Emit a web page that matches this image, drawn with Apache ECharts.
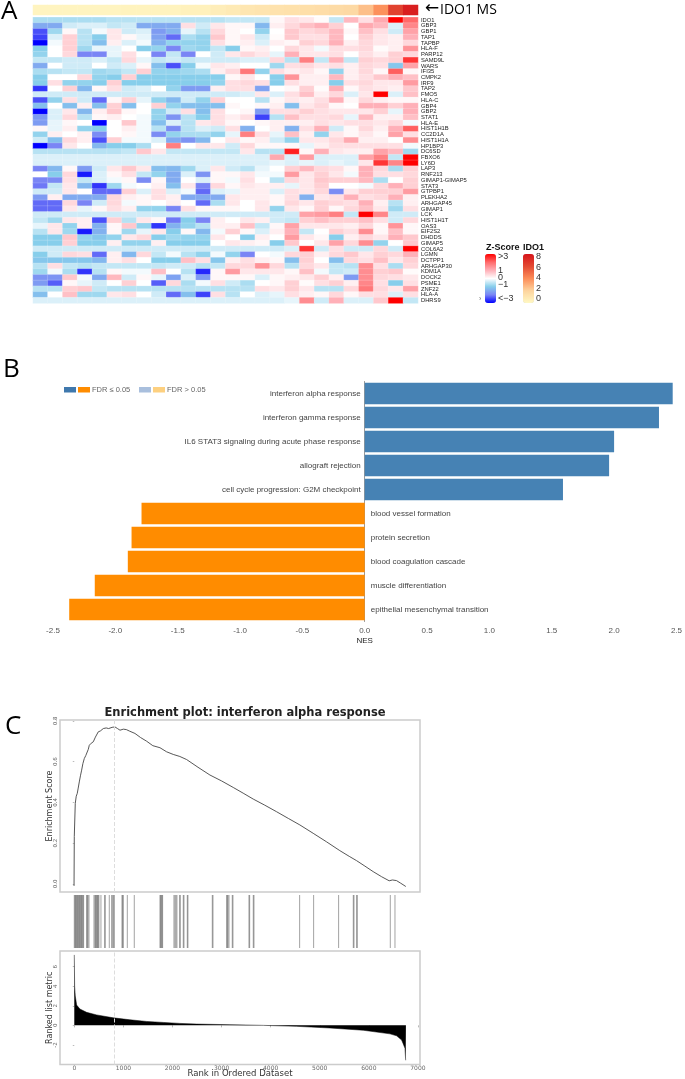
<!DOCTYPE html>
<html>
<head>
<meta charset="utf-8">
<style>
  html, body { margin: 0; padding: 0; background: #fff; }
  #main { width: 685px; height: 1079px; filter: blur(0.7px); }
</style>
<script src="https://cdn.jsdelivr.net/npm/echarts@6/dist/echarts.min.js"></script>
</head>
<body>
<div id="main"></div>
<script>
// panel A
const genes = ['IDO1','GBP3','GBP1','TAP1','TAPBP','HLA-F','PARP12','SAMD9L','WARS','IFI35','CMPK2','IRF9','TAP2','FMO5','HLA-C','GBP4','GBP2','STAT1','HLA-E','HIST1H1B','CC2D1A','HIST1H1A','HP1BP3','DC6SD','FBXO6','LY6D','LAP3','RNF213','GIMAP1-GIMAP5','STAT3','GTPBP1','PLEKHA2','ARHGAP45','GIMAP1','LCK','HIST1H1T','OAS3','EIF2S2','DHDDS','GIMAP5','COL6A2','LGMN','DCTPP1','ARHGAP30','KDM1A','DOCK2','PSME1','ZNF22','HLA-A','DHRS9'];
const ido1Levels = [.2,.2,.2,.2,.2,.2,.3,.3,.3,.3,.4,.4,.6,.8,1,1.1,1.2,1.3,1.4,1.5,1.6,1.7,2.6,3.9,6.3,7.6];
const zRows = [
[-.7,-.7,-.7,-.7,-.7,-.6,-.6,-.6,-.6,-.6,-.6,-.6,-.6,-.5,-.5,-.5,.1,.4,.3,.05,-.5,.9,.4,1.1,3,2],
[-1.5,-1.5,-.4,-.3,-.3,-.5,-.4,-1.5,-1.5,-1.5,.4,-.4,.3,.1,.1,-1.3,.2,.5,.8,1,.6,0,1.1,.9,-.3,1.6],
[-2.4,-.8,.1,-.6,-.1,.3,-.4,-.3,-1.7,-1.4,-.2,-.6,.5,.1,0,-.9,0,.7,.5,.6,.9,.1,.8,.4,-.4,1.2],
[-2.5,-.3,.6,-.6,-1,.3,.1,-.2,-1.6,-2.2,-.7,-.9,.7,.1,.3,-.4,.05,.7,.4,.4,.9,0,.6,.3,.2,1],
[-3,-.1,.6,-.6,-1.2,.2,-.3,-.1,-1.4,-.9,-.9,-.9,.4,.1,.2,-.3,.2,.1,.6,.5,1,.2,.5,.3,.2,.5],
[-1,0,.6,-.8,-.2,-.2,0,-1,-.9,-2,-.8,-.9,-.5,-1,.1,.2,0,.5,.3,-.1,.4,.4,.5,.05,.2,1.4],
[-.9,0,.5,-2,-2,-.2,.4,0,-2,-.5,-2,0,-.4,.3,.5,.3,-.2,1,.3,.3,.4,0,.4,.2,.6,.5],
[-.5,-.5,-.4,-.4,-.3,-.5,.5,-.2,-.5,-.4,-.5,-.4,-.4,-.4,-.3,-.3,.5,-.6,1.7,-.5,1,-.5,.6,.5,.6,2.5],
[-1.5,0,-.4,-.4,0,-.4,-.3,.1,-1.2,-2.4,-1,-.1,.3,.2,0,0,-.8,.4,.5,.3,.4,.2,.5,.4,-1.1,1.2],
[-.7,-.6,-.5,-.5,-.8,-.7,-.5,.6,-.9,-.9,-.8,-.7,.2,.5,1.8,-.9,.4,.2,.3,.1,-.9,.2,.5,.1,2.1,.1],
[-1,0,0,.5,-.9,-1,.6,-1,-1,-1,-1,-1,-1,.1,.3,0,-1,1.4,.2,.2,.9,.2,.4,.7,1,.8],
[-1,.4,-.9,-.9,-1,.6,-1,-1,-1,-1,-1,-1,-.9,.4,.5,.4,-1,.4,.2,.2,-1,.4,.5,.3,.3,1.3],
[-2.6,0,.6,-1.3,.1,.4,-.4,-.3,0,-.9,-1.7,-1.7,.2,.4,.4,-1.6,0,.1,.6,.05,1,.1,.4,.3,.2,.7],
[-.4,-.4,-.4,-.4,-.4,-.4,-.4,-.4,-.4,-.4,-.4,-.4,-.4,-.4,-.3,.3,-.3,.4,.8,.2,.5,-.3,.3,3,-.3,.8],
[-2.4,-.9,.4,-.4,-2.2,.1,.6,-.2,-.9,-1.3,-.4,-.9,.6,0,0,-.6,.1,.3,.2,.4,1,.1,.5,.2,.1,.1],
[-1.2,0,-1.2,.2,-1.2,.6,-1.2,0,.6,-.9,-1.2,-1.2,-1.2,.1,0,.1,.2,-1.2,.3,.5,.1,0,1,1,.6,1],
[-3,-.3,.3,-1.3,.2,.7,.1,0,-.9,-.4,.4,-1.2,.4,0,.1,-1.7,.4,.4,.6,.4,.3,.3,.3,.6,-.2,1],
[-1.7,-.3,.5,-.6,.1,.2,0,-.1,-.9,-1.8,-.6,-1,.4,.2,.4,-2.5,-.6,.8,.4,.4,.5,-.2,.9,.2,.2,.8],
[-1.7,-.2,.1,0,-3,0,.7,-.1,-1.2,-.3,-.6,.3,.4,.1,0,.1,.2,.2,.2,.4,.3,.4,.4,.3,.5,-.1],
[.1,-.2,.2,-.9,-1,0,.2,-.1,-.6,-1.9,-.6,-.3,-.4,.4,-1.4,0,.2,-1.4,.4,1,-.4,.1,.5,.2,1,2.1],
[-.9,.2,0,.2,-1.9,0,.1,-.1,-1.9,-.9,-.7,-.7,-.9,-.2,1.7,.4,-.2,.8,.2,-.9,.3,.1,.3,.1,1.2,.4],
[-.4,-1.2,.5,.2,-2.4,.6,-.1,-.1,-.3,-1.5,-1.8,-1.3,0,.3,.1,.2,-.4,-.9,.3,.3,.5,1.1,.2,.2,0,1.5],
[-3,-2,.3,0,-1.3,-1,-1,-.7,0,1.7,0,.3,.3,-.4,.5,.1,.1,.1,-.2,.2,.4,.4,.4,.4,.4,-.1],
[-.6,-.6,-.6,-.6,-.6,-.6,-.5,.7,.3,-.5,-.5,-.5,-.5,-.5,.3,-.6,-.6,2.7,.1,1,.3,.2,.2,1.2,.9,-.8],
[-.3,-.3,-.3,-.3,-.3,-.3,-.3,-.3,-.3,-.3,-.3,-.3,-.3,-.3,-.3,-.3,1.1,-.3,1.3,-.3,-.3,-.3,1.2,1.7,-.5,3],
[-.3,-.3,-.3,-.3,-.3,-.3,-.3,-.3,-.3,-.3,-.3,-.3,-.3,-.3,-.3,-.3,-.2,-.3,-.2,-.3,-.2,-.3,.3,2.5,1.6,3],
[-2,-1.3,.1,-1.7,-.4,.3,.7,.3,-1.2,-1.3,-.8,-.3,.3,-.4,-.6,-.2,0,.6,.9,.5,.4,.1,1,.5,-.7,.6],
[0,-1,.5,-2.8,-.3,.1,.4,-.5,-.9,-1.5,-.3,-1.8,.1,.1,.3,-.1,-.1,1.3,.3,.6,.3,-.1,1,.4,.4,.5],
[-2,-1.9,.4,-.5,-.3,-.1,.1,-1.9,.1,-1.5,0,-.3,.1,-.1,.4,0,-.6,.5,.3,.7,.6,.6,.9,-.7,0,.6],
[-2.1,-.5,.3,-1.3,-2.6,-.8,-.1,0,.2,-1.2,.3,-2,.5,.1,.3,.2,.2,-.2,.3,.6,0,0,-.1,.5,1,.6],
[-.4,-.4,.3,0,-2.2,-2.2,.6,-.3,.4,-.3,-.1,-2.2,-.3,-.2,.2,.2,-.3,.4,.3,.5,-1.9,.3,.6,.6,.6,1.3],
[-1.7,.2,-1.5,-1.5,-1.5,.5,.2,.1,.4,.2,-1.5,-1.5,-1.5,.3,.2,.2,.1,.4,-1.4,.3,.4,1,.4,.5,1,.2],
[-2.2,-2.2,.5,-2,-.4,.5,-.1,.1,0,.2,0,-2.2,-.7,.3,0,.3,.1,.5,.3,.6,.5,.4,1,.2,-.6,.2],
[-2.2,-2.2,.3,-.2,.1,.4,.2,-.9,-.9,-2,.4,.1,.1,.1,0,.3,-.9,.3,.1,.6,.1,.5,.8,.3,-.8,.4],
[-.4,-.4,-.4,-.4,-.4,-.4,-.4,-.4,-.4,-.4,-.4,-.4,-.4,-.4,-.4,-.4,-.4,-.4,1.2,1.3,1.7,-.5,3,1.6,-.4,-.4],
[-.5,-.8,.3,.2,-2.4,.6,-.6,.3,.1,-2.1,-1,-2,.2,0,.3,.2,-.4,-.5,.6,.8,.6,.6,.8,.4,-.4,.5],
[-.2,.3,-.9,.2,-1.4,.1,.7,-.9,-2.6,-1.4,-.9,-.6,.2,.2,.8,-.5,.1,1.2,.3,.3,.3,.2,.5,.1,1.4,.1],
[-.6,.3,-.8,-2.8,-1.4,.1,-.8,-.2,.3,-1,.1,-1.3,-.1,.6,.1,-.3,.2,1,-.5,0,.6,.4,1.5,.1,.8,.1],
[-1,-1,.7,-.9,-1.1,-.9,.3,.5,-1,-.8,-.9,-.9,.3,0,-1,.2,0,1.3,.3,.1,-1,.2,.5,.3,1,.7],
[-1,-1,.6,-1,-1,.2,-.9,-.9,.2,-1,-1,-1,0,.3,.2,.1,-1,.7,0,.3,1.2,.5,1.5,-.9,0,.7],
[-.4,-.4,-.4,-.4,-.4,-.4,-.4,-.4,-.4,-.4,-.4,-.4,-.4,-.4,-.4,-.4,-.4,-.3,2.5,-.4,.4,-.4,-.4,.5,-.4,3],
[-1,-.4,.5,.4,-2.2,.2,-1.3,.5,-.5,-.1,-.6,-.9,-.1,-.9,-2,0,-.1,.5,.6,.2,.5,.7,.3,.6,.5,1],
[-1.1,-1.1,-1.1,-1.1,-1.3,.2,.4,0,-1,-1,.8,.4,-1.1,.2,.4,.2,.1,-1.2,.6,0,-1.2,.5,.4,.8,.3,.6],
[-.6,.4,-.5,-.6,-.5,-.5,-.5,-.5,-.5,-.4,-.4,-.6,-.5,.5,.5,1.4,.5,-.6,.5,.3,-.5,-.6,1.5,.4,-.7,.5],
[-.8,-.1,-.7,-2.6,-.6,.1,-.1,-.1,.8,0,-.6,-2.7,.1,1.3,.3,.3,.3,.1,.8,-.1,-.5,-.4,1.5,.6,.7,.05],
[-1.8,-1.8,.7,-.1,-1.5,.9,-.4,.1,-.2,-1.6,-.3,-1.7,.1,.1,.1,-.3,.1,.2,.3,.6,.2,-1.7,1.5,.5,.4,.3],
[-1.7,-2.3,.1,-.2,-.4,0,.6,0,-2.3,.5,-.7,-.1,.4,-.4,-.7,0,.1,.6,.05,.4,.6,.2,1.6,.4,-1,.4],
[-.6,-.6,.6,.7,-.5,-.6,-.6,-.6,-.6,-.6,-.6,-.6,-.6,-.6,-.6,.4,.3,.6,.3,-.6,-.6,.5,1.8,.5,.3,1.2],
[-1.2,0,.8,-.8,-.8,.3,.4,0,-.4,-2.2,-1.2,-2.5,.4,-.6,0,-.3,-.2,.4,.2,.1,.5,.1,.4,.4,-.3,.4],
[-.3,-.3,-.3,-.3,-.3,-.3,-.3,-.3,-.3,-.3,-.3,-.3,-.3,-.3,-.3,-.3,-.3,-.2,1.5,-.4,1,-.3,-.3,.7,3,-.5]
];
const samples = ido1Levels.map((v, i) => 'S' + (i + 1));

// panel B
const pathways = ['interferon alpha response','interferon gamma response','IL6 STAT3 signaling during acute phase response','allograft rejection','cell cycle progression: G2M checkpoint','blood vessel formation','protein secretion','blood coagulation cascade','muscle differentiation','epithelial mesenchymal transition'];
const nesValues = [2.47,2.36,2.0,1.96,1.59,-1.79,-1.87,-1.90,-2.165,-2.37];

// panel C
const esCurve = [[-5,-.01],[0,.232],[20,.395],[40,.43],[61,.444],[80,.47],[102,.50],[125,.53],[150,.558],[175,.59],[204,.615],[235,.63],[265,.632],[285,.66],[306,.68],[345,.69],[387,.697],[430,.72],[489,.746],[530,.75],[591,.762],[650,.765],[700,.762],[770,.768],[829,.77],[880,.762],[931,.754],[965,.752],[999,.759],[1060,.757],[1130,.749],[1236,.738],[1350,.718],[1473,.70],[1600,.678],[1745,.668],[1880,.648],[2016,.635],[2150,.625],[2288,.61],[2520,.572],[2763,.534],[3000,.505],[3238,.473],[3440,.445],[3645,.416],[3880,.386],[4120,.354],[4360,.321],[4595,.289],[4866,.248],[5140,.206],[5409,.163],[5600,.135],[5749,.114],[5920,.087],[6088,.06],[6260,.035],[6414,.015],[6480,.019],[6563,.016],[6650,.003],[6753,-.013]];
const hitRanks = [0,14,27,41,54,68,81,95,109,122,136,149,163,177,190,251,265,278,299,401,421,435,448,462,475,489,502,543,618,631,713,760,781,801,815,971,985,998,1080,1222,1745,1759,1772,1786,1799,2030,2051,2071,2091,2146,2159,2220,2234,2302,2315,2811,2825,3103,3117,3130,3151,3218,3232,3558,3572,3646,3660,4590,4875,5384,5683,5697,5751,5765,6437,6532];
const rankedMetric = [[0,7.2],[7,4.0],[20,3.0],[48,2.07],[115,1.67],[251,1.33],[455,1.07],[794,.77],[1134,.57],[1473,.4],[1813,.3],[2152,.2],[2492,.13],[3171,.07],[3850,0],[4529,-.1],[5208,-.27],[5887,-.5],[6430,-.87],[6566,-1.07],[6668,-1.5],[6736,-2.33],[6750,-3.57],[6755,-3.6]];
const leadingEdgeRank = 820;
const rankTicks = [0,1000,2000,3000,4000,5000,6000,7000];
const esTicks = [0,.2,.4,.6,.8];
const metricTicks = [-2,0,2,4,6];

const heatData = [];
zRows.forEach((row, y) => row.forEach((v, x) => heatData.push([x, y, v])));
const annotData = ido1Levels.map((v, x) => [x, 0, v]);

const greyText = '#555';
const plotFont = 'DejaVu Sans';
const armFont = 'Liberation Sans';

function rankAxis(gridIndex, showLabels, name) {
  return {
    type: 'value', gridIndex: gridIndex, min: -291, max: 7042,
    splitLine: { show: false }, axisLine: { show: false },
    axisTick: { show: showLabels, length: 2, lineStyle: { color: '#bbb' }, customValues: rankTicks },
    axisLabel: { show: showLabels, fontSize: 6, fontFamily: plotFont, color: '#666', margin: 1, customValues: rankTicks, formatter: v => String(v) },
    name: name, nameLocation: 'middle', nameGap: 4.5, nameMoveOverlap: false,
    nameTextStyle: { fontSize: 8.5, fontFamily: plotFont, color: '#333' }
  };
}

function legendText(x, y, text, size, extra) {
  return { type: 'text', x: x, y: y, silent: true,
    style: Object.assign({ text: text, fontSize: size, fontFamily: armFont, fill: '#333', textVerticalAlign: 'middle' }, extra || {}) };
}
function swatch(x, color) {
  return { type: 'rect', x: x, y: 387, silent: true, shape: { width: 12, height: 5.5 }, style: { fill: color } };
}

const option = {
  animation: false,
  backgroundColor: '#fff',
  title: {
    text: 'Enrichment plot: interferon alpha response',
    left: 240, top: 702, textAlign: 'center',
    textStyle: { fontFamily: plotFont, fontSize: 11.5, fontWeight: 'bold', color: '#222' }
  },
  grid: [
    { left: 33, top: 5, width: 385, height: 10 },
    { left: 33, top: 17.3, width: 385, height: 286 },
    { left: 53, top: 381.5, width: 625, height: 240 },
    { left: 60, top: 720, width: 360, height: 172, show: true, borderColor: '#ccc', borderWidth: 1.5 },
    { left: 60, top: 895, width: 360, height: 53 },
    { left: 60, top: 951, width: 360, height: 115, show: true, borderColor: '#ccc', borderWidth: 1.5 }
  ],
  xAxis: [
    { type: 'category', gridIndex: 0, data: samples, show: false },
    { type: 'category', gridIndex: 1, data: samples, show: false },
    {
      type: 'value', gridIndex: 2, min: -2.5, max: 2.5, interval: 0.5, offset: 1,
      splitLine: { show: false },
      axisLine: { onZero: false, lineStyle: { color: '#444' } },
      axisTick: { length: 3, lineStyle: { color: '#444' } },
      axisLabel: { fontSize: 8, fontFamily: armFont, color: greyText, margin: 4, formatter: v => v.toFixed(1) },
      name: 'NES', nameLocation: 'middle', nameGap: 14, nameMoveOverlap: false,
      nameTextStyle: { fontSize: 8, fontFamily: armFont, color: '#222' }
    },
    rankAxis(3, false),
    rankAxis(4, false),
    rankAxis(5, true, 'Rank in Ordered Dataset')
  ],
  yAxis: [
    { type: 'category', gridIndex: 0, data: ['IDO1'], show: false },
    {
      type: 'category', gridIndex: 1, data: genes, inverse: true, position: 'right',
      axisLine: { show: false }, axisTick: { show: false },
      axisLabel: { fontSize: 5.8, fontFamily: armFont, color: '#222', margin: 3, interval: 0 }
    },
    {
      type: 'category', gridIndex: 2, data: pathways, inverse: true,
      axisLine: { lineStyle: { color: '#999' } }, axisTick: { show: false }, axisLabel: { show: false }
    },
    {
      type: 'value', gridIndex: 3, min: -0.04, max: 0.804,
      splitLine: { show: false }, axisLine: { show: false },
      axisTick: { length: 1.5, lineStyle: { color: '#bbb' }, customValues: esTicks },
      axisLabel: { rotate: 90, fontSize: 5.5, fontFamily: plotFont, color: '#666', margin: 1, customValues: esTicks, formatter: v => v.toFixed(1) },
      name: 'Enrichment Score', nameLocation: 'middle', nameGap: 6, nameMoveOverlap: false,
      nameTextStyle: { fontSize: 8, fontFamily: plotFont, color: '#333' }
    },
    { type: 'value', gridIndex: 4, min: 0, max: 1, show: false },
    {
      type: 'value', gridIndex: 5, min: -4, max: 7.6,
      splitLine: { show: false }, axisLine: { show: false },
      axisTick: { length: 1.5, lineStyle: { color: '#bbb' }, customValues: metricTicks },
      axisLabel: { rotate: 90, fontSize: 5.5, fontFamily: plotFont, color: '#666', margin: 1, customValues: metricTicks },
      name: 'Ranked list metric', nameLocation: 'middle', nameGap: 6, nameMoveOverlap: false,
      nameTextStyle: { fontSize: 8, fontFamily: plotFont, color: '#333' }
    }
  ],
  visualMap: [
    {
      type: 'continuous', seriesIndex: 0, min: -3, max: 3, left: 485, top: 254,
      itemWidth: 11, itemHeight: 49, padding: 0, calculable: false, hoverLink: false,
      inRange: { color: ['#0000ff', '#7a85f5', '#87ceeb', '#ffffff', '#ffb0b8', '#ff6a6a', '#ff0000'] }
    },
    {
      type: 'continuous', seriesIndex: 1, min: 0, max: 8, left: 523, top: 254,
      itemWidth: 11, itemHeight: 49, padding: 0, calculable: false, hoverLink: false,
      inRange: { color: ['#fff8c4', '#fdd49e', '#fc8d59', '#e34a33', '#d7141a'] }
    }
  ],
  series: [
    {
      type: 'heatmap', xAxisIndex: 1, yAxisIndex: 1, data: heatData, progressive: 0, silent: true,
      itemStyle: { borderColor: 'rgba(255,255,255,0.35)', borderWidth: 0.5 }
    },
    {
      type: 'heatmap', xAxisIndex: 0, yAxisIndex: 0, data: annotData, progressive: 0, silent: true
    },
    {
      type: 'bar', xAxisIndex: 2, yAxisIndex: 2, barWidth: '90%', silent: true,
      data: nesValues.map((v, i) => ({
        value: v,
        name: pathways[i],
        itemStyle: { color: v > 0 ? '#4682b4' : '#ff8c00' },
        label: { position: v > 0 ? 'left' : 'right', distance: v > 0 ? 4 : 6 }
      })),
      label: { show: true, formatter: '{b}', fontSize: 8, fontFamily: armFont, color: '#444' }
    },
    {
      type: 'line', xAxisIndex: 3, yAxisIndex: 3, data: esCurve, symbol: 'none', silent: true,
      lineStyle: { color: '#444', width: 0.9 },
      markLine: {
        silent: true, symbol: 'none', label: { show: false },
        lineStyle: { color: '#ddd', width: 1, type: 'dashed' },
        data: [{ xAxis: leadingEdgeRank }]
      }
    },
    {
      type: 'bar', xAxisIndex: 4, yAxisIndex: 4, barWidth: 1, silent: true,
      data: hitRanks.map(r => [r, 1]),
      itemStyle: { color: 'rgba(50,50,50,0.45)' }
    },
    {
      type: 'line', xAxisIndex: 5, yAxisIndex: 5, data: rankedMetric, symbol: 'none', silent: true,
      lineStyle: { color: '#000', width: 0.5 },
      areaStyle: { color: '#000', opacity: 1, origin: 0 },
      markLine: {
        silent: true, symbol: 'none', label: { show: false },
        lineStyle: { color: '#ddd', width: 1, type: 'dashed' },
        data: [{ xAxis: leadingEdgeRank }]
      }
    }
  ],
  graphic: [
    legendText(1, 12, 'A', 26, { fontFamily: 'Open Sans', fill: '#000' }),
    legendText(3, 370, 'B', 26, { fontFamily: 'Open Sans', fill: '#000' }),
    legendText(5, 727, 'C', 26, { fontFamily: 'Open Sans', fill: '#000' }),
    legendText(425, 9, '←', 17, { fontFamily: 'DejaVu Sans', fill: '#000' }),
    legendText(440, 10, 'IDO1 MS', 14, { fontFamily: 'Open Sans', fill: '#000' }),
    legendText(486, 248, 'Z-Score', 9, { fontWeight: 'bold', fill: '#111' }),
    legendText(523, 248, 'IDO1', 9, { fontWeight: 'bold', fill: '#111' }),
    legendText(498, 257, '>3', 9),
    legendText(498, 271, '1', 9),
    legendText(498, 278, '0', 9),
    legendText(498, 285, '−1', 9),
    legendText(498, 299, '<−3', 9),
    legendText(536, 257, '8', 9),
    legendText(536, 268, '6', 9),
    legendText(536, 278, '4', 9),
    legendText(536, 289, '2', 9),
    legendText(536, 299, '0', 9),
    legendText(479, 299, '›', 7, { fill: '#777' }),
    swatch(64, '#3f78ad'),
    swatch(78, '#ff8c00'),
    legendText(92, 390, 'FDR ≤ 0.05', 7.5, { fill: '#666' }),
    swatch(139, '#a9bfdd'),
    swatch(153, '#fdd080'),
    legendText(167, 390, 'FDR > 0.05', 7.5, { fill: '#666' })
  ]
};

const chart = echarts.init(document.getElementById('main'));
chart.setOption(option);
</script>
</body>
</html>
